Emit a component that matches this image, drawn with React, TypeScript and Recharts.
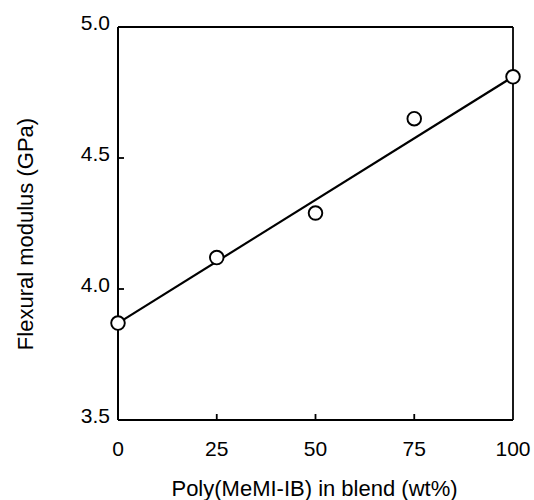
import {
  ScatterChart,
  Scatter,
  XAxis,
  YAxis,
  ReferenceLine,
} from "recharts";

// measured points
const blendWt = [0, 25, 50, 75, 100];
const modulus = [3.87, 4.12, 4.29, 4.65, 4.81];

// straight fit line drawn through the data
const fitX = [0, 100];
const fitY = [3.87, 4.81];

const xTicks = [0, 25, 50, 75, 100];
const yTicks = [3.5, 4.0, 4.5, 5.0];

const points = blendWt.map((x, i) => ({ x, y: modulus[i] }));
const fitLine = fitX.map((x, i) => ({ x, y: fitY[i] }));

const FONT = "'Liberation Sans', Arial, Helvetica, sans-serif";

const XTick = ({ x, y, payload }: any) => (
  <g>
    {payload.value > 0 && payload.value < 100 && (
      <line x1={x} y1={y} x2={x} y2={y - 6} stroke="#000" strokeWidth={1.8} />
    )}
    <text
      x={x}
      y={y + 28}
      textAnchor="middle"
      dominantBaseline="central"
      fontSize={21}
      fontFamily={FONT}
      fill="#000"
    >
      {payload.value}
    </text>
  </g>
);

const YTick = ({ x, y, payload }: any) => (
  <g>
    {payload.value > 3.5 && payload.value < 5 && (
      <line x1={x} y1={y} x2={x + 6} y2={y} stroke="#000" strokeWidth={1.8} />
    )}
    <text
      x={x - 8}
      y={y - 5}
      textAnchor="end"
      dominantBaseline="central"
      fontSize={21}
      fontFamily={FONT}
      fill="#000"
    >
      {Number(payload.value).toFixed(1)}
    </text>
  </g>
);

const Dot = ({ cx, cy }: any) => (
  <circle cx={cx} cy={cy} r={6.8} fill="#fff" stroke="#000" strokeWidth={1.9} />
);

export default function App() {
  return (
    <div>
      <style>{`body{margin:0;background:#fff}`}</style>
      <ScatterChart
        width={534}
        height={500}
        margin={{ top: 27, right: 21, bottom: 0, left: 0 }}
      >
        <XAxis
          type="number"
          dataKey="x"
          domain={[0, 100]}
          ticks={xTicks}
          tickSize={0}
          tickMargin={0}
          tickLine={false}
          tick={<XTick />}
          height={80}
          axisLine={{ stroke: "#000", strokeWidth: 2 }}
          label={{
            content: ({ viewBox }: any) => (
              <text
                x={viewBox.x + viewBox.width / 2 - 1}
                y={viewBox.y + 68}
                textAnchor="middle"
                dominantBaseline="central"
                fontSize={22}
                fontFamily={FONT}
                fill="#000"
              >
                Poly(MeMI-IB) in blend (wt%)
              </text>
            ),
          }}
        />
        <YAxis
          type="number"
          dataKey="y"
          domain={[3.5, 5.0]}
          ticks={yTicks}
          tickSize={0}
          tickMargin={0}
          tickLine={false}
          tick={<YTick />}
          width={118}
          axisLine={{ stroke: "#000", strokeWidth: 2 }}
          label={{
            content: () => (
              <text
                x={25}
                y={234}
                transform="rotate(-90 25 234)"
                textAnchor="middle"
                dominantBaseline="central"
                fontSize={22}
                fontFamily={FONT}
                fill="#000"
              >
                Flexural modulus (GPa)
              </text>
            ),
          }}
        />
        <ReferenceLine y={5} stroke="#000" strokeWidth={1.8} />
        <ReferenceLine x={100} stroke="#000" strokeWidth={1.8} />
        <Scatter
          data={fitLine}
          line={{ stroke: "#000", strokeWidth: 2.2 }}
          shape={() => null}
          isAnimationActive={false}
        />
        <Scatter data={points} shape={<Dot />} isAnimationActive={false} />
      </ScatterChart>
    </div>
  );
}
